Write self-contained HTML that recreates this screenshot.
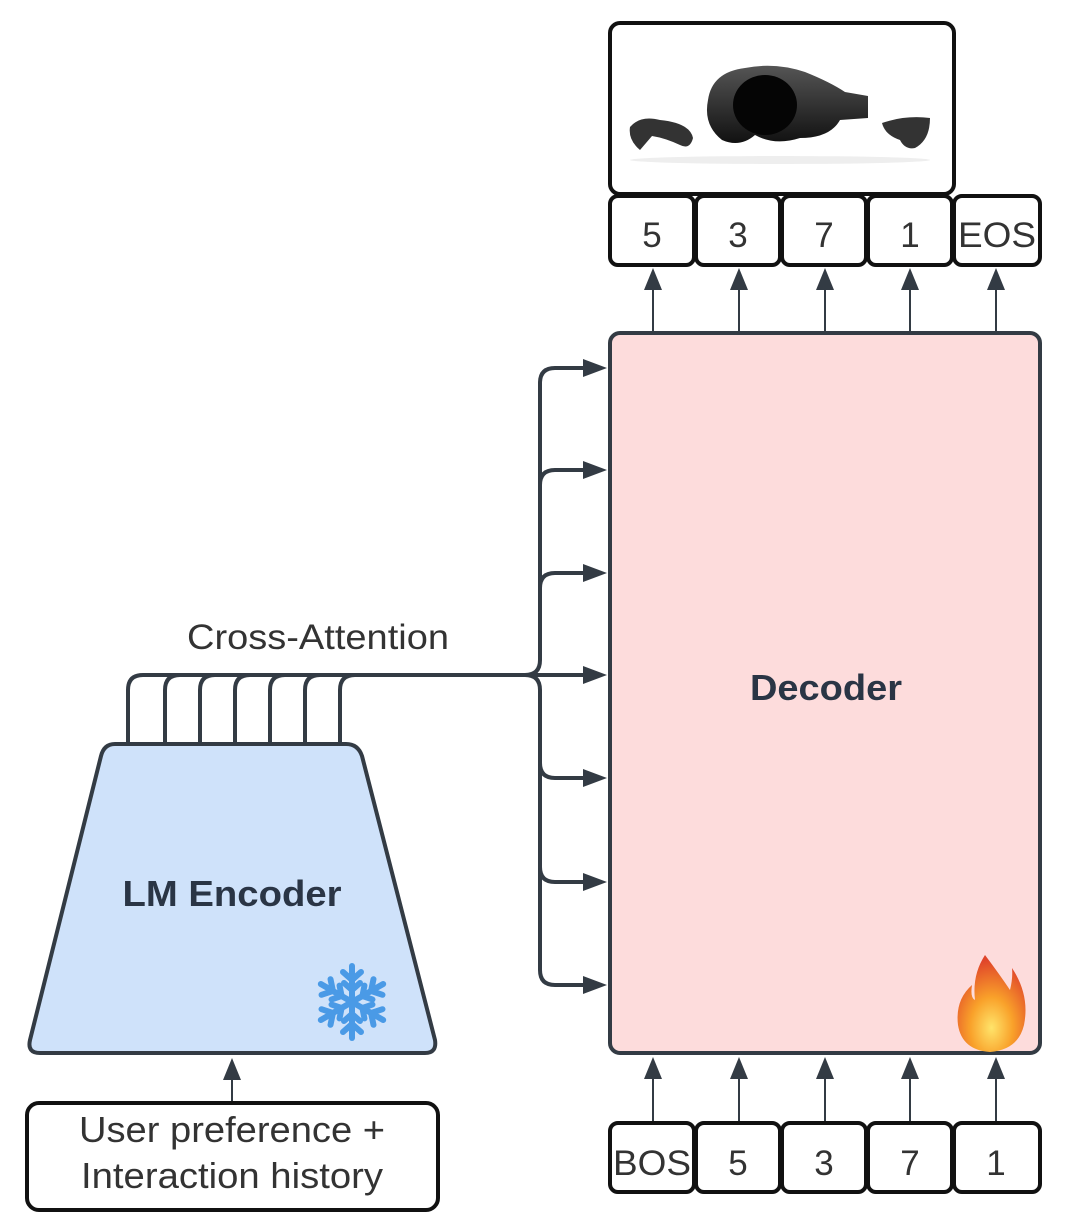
<!DOCTYPE html>
<html><head><meta charset="utf-8"><style>html,body{margin:0;padding:0;background:#fff}svg{display:block}</style></head>
<body>
<svg width="1080" height="1232" viewBox="0 0 1080 1232" xmlns="http://www.w3.org/2000/svg" font-family="Liberation Sans, sans-serif">
<defs>
<radialGradient id="fire" cx="0.5" cy="0.75" r="0.7">
<stop offset="0" stop-color="#ffe46a"/><stop offset="0.45" stop-color="#f9a12a"/><stop offset="1" stop-color="#e0452a"/>
</radialGradient>
<linearGradient id="hs" x1="0" y1="0" x2="0" y2="1"><stop offset="0" stop-color="#555"/><stop offset="1" stop-color="#111"/></linearGradient>
</defs>
<rect width="1080" height="1232" fill="#fff"/>

<!-- image box -->
<rect x="610" y="23" width="344" height="171" rx="10" fill="#fff" stroke="#111" stroke-width="4"/>
<ellipse cx="780" cy="160" rx="150" ry="4" fill="#eee"/>
<path d="M708 100 Q712 72 745 68 Q775 62 805 72 Q830 82 845 92 L868 96 L868 118 L840 120 Q830 138 800 138 Q775 146 755 135 Q740 148 722 140 Q703 125 708 100Z" fill="url(#hs)"/>
<ellipse cx="765" cy="105" rx="32" ry="30" fill="#050505"/>
<path d="M630 127 Q640 115 660 120 Q690 123 693 138 Q690 150 680 145 Q665 138 652 136 L640 150 Q628 140 630 127Z" fill="#333"/>
<path d="M882 123 Q905 115 930 118 Q930 140 915 148 Q905 150 900 140 Q885 135 882 123Z" fill="#333"/>

<!-- top tokens -->
<g fill="#fff" stroke="#111" stroke-width="4">
<rect x="610" y="196" width="84" height="69" rx="8"/>
<rect x="696" y="196" width="84" height="69" rx="8"/>
<rect x="782" y="196" width="84" height="69" rx="8"/>
<rect x="868" y="196" width="84" height="69" rx="8"/>
<rect x="954" y="196" width="86" height="69" rx="8"/>
</g>
<g font-size="35" fill="#333" text-anchor="middle">
<text x="652" y="247">5</text><text x="738" y="247">3</text><text x="824" y="247">7</text><text x="910" y="247">1</text><text x="997" y="247" textLength="78" lengthAdjust="spacingAndGlyphs">EOS</text>
</g>

<!-- decoder -->
<rect x="610" y="333" width="430" height="720" rx="10" fill="#fddcdc" stroke="#333b44" stroke-width="4"/>
<text x="826" y="700" font-size="36" font-weight="bold" fill="#2a3545" text-anchor="middle" textLength="152" lengthAdjust="spacingAndGlyphs">Decoder</text>

<!-- vertical arrows -->
<g stroke="#333b44" stroke-width="2">
<line x1="653" y1="331" x2="653" y2="280"/><line x1="739" y1="331" x2="739" y2="280"/><line x1="825" y1="331" x2="825" y2="280"/><line x1="910" y1="331" x2="910" y2="280"/><line x1="996" y1="331" x2="996" y2="280"/>
<line x1="653" y1="1121" x2="653" y2="1070"/><line x1="739" y1="1121" x2="739" y2="1070"/><line x1="825" y1="1121" x2="825" y2="1070"/><line x1="910" y1="1121" x2="910" y2="1070"/><line x1="996" y1="1121" x2="996" y2="1070"/>
<line x1="232" y1="1101" x2="232" y2="1070"/>
</g>
<g fill="#333b44">
<path d="M653 268 l-9 22 h18z"/><path d="M739 268 l-9 22 h18z"/><path d="M825 268 l-9 22 h18z"/><path d="M910 268 l-9 22 h18z"/><path d="M996 268 l-9 22 h18z"/>
<path d="M653 1057 l-9 22 h18z"/><path d="M739 1057 l-9 22 h18z"/><path d="M825 1057 l-9 22 h18z"/><path d="M910 1057 l-9 22 h18z"/><path d="M996 1057 l-9 22 h18z"/>
<path d="M232 1058 l-9 22 h18z"/>
</g>

<!-- bottom tokens -->
<g fill="#fff" stroke="#111" stroke-width="4">
<rect x="610" y="1123" width="84" height="69" rx="8"/>
<rect x="696" y="1123" width="84" height="69" rx="8"/>
<rect x="782" y="1123" width="84" height="69" rx="8"/>
<rect x="868" y="1123" width="84" height="69" rx="8"/>
<rect x="954" y="1123" width="86" height="69" rx="8"/>
</g>
<g font-size="35" fill="#333" text-anchor="middle">
<text x="652" y="1175" textLength="78" lengthAdjust="spacingAndGlyphs">BOS</text><text x="738" y="1175">5</text><text x="824" y="1175">3</text><text x="910" y="1175">7</text><text x="996" y="1175">1</text>
</g>

<!-- encoder -->
<path d="M115 744 L346 744 Q358 744 362 756 L435 1040 Q437 1053 425 1053 L40 1053 Q27 1053 30 1040 L101 756 Q104 744 115 744Z" fill="#cfe2fa" stroke="#333b44" stroke-width="4"/>
<text x="232" y="906" font-size="36" font-weight="bold" fill="#2a3545" text-anchor="middle" textLength="219" lengthAdjust="spacingAndGlyphs">LM Encoder</text>

<!-- snowflake -->
<g stroke="#4a9ae6" stroke-width="6" stroke-linecap="round" fill="none" transform="translate(352,1002)">
<g id="arm"><line x1="0" y1="0" x2="0" y2="-36"/><polyline points="-9,-30 0,-22 9,-30"/><polyline points="-8,-19 0,-12 8,-19"/></g>
<use href="#arm" transform="rotate(60)"/><use href="#arm" transform="rotate(120)"/><use href="#arm" transform="rotate(180)"/><use href="#arm" transform="rotate(240)"/><use href="#arm" transform="rotate(300)"/>
</g>

<!-- fire -->
<path d="M985 955 Q1000 975 1010 990 Q1013 978 1012 968 Q1030 995 1024 1025 Q1018 1050 990 1052 Q962 1050 958 1025 Q955 1000 972 985 Q970 998 975 1000 Q972 975 985 955Z" fill="url(#fire)"/>

<!-- input box -->
<rect x="27" y="1103" width="411" height="107" rx="12" fill="#fff" stroke="#111" stroke-width="4"/>
<text x="232" y="1142" font-size="36" fill="#333" text-anchor="middle" textLength="306" lengthAdjust="spacingAndGlyphs">User preference +</text>
<text x="232" y="1188" font-size="36" fill="#333" text-anchor="middle" textLength="302" lengthAdjust="spacingAndGlyphs">Interaction history</text>

<!-- cross attention connectors -->
<text x="318" y="649" font-size="35" fill="#333" text-anchor="middle" textLength="262" lengthAdjust="spacingAndGlyphs">Cross-Attention</text>
<g stroke="#333b44" stroke-width="4" fill="none">
<path d="M128 744 V690 Q128 675 143 675 H525"/>
<path d="M165 744 V690 Q165 675 180 675"/>
<path d="M200 744 V690 Q200 675 215 675"/>
<path d="M235 744 V690 Q235 675 250 675"/>
<path d="M270 744 V690 Q270 675 285 675"/>
<path d="M305 744 V690 Q305 675 320 675"/>
<path d="M340 744 V690 Q340 675 355 675"/>
<path d="M525 675 H585"/>
<path d="M525 675 Q540 675 540 660 V383 Q540 368 555 368 H585"/>
<path d="M525 675 Q540 675 540 690 V970 Q540 985 555 985 H585"/>
<path d="M540 485 Q540 470 555 470 H585"/>
<path d="M540 588 Q540 573 555 573 H585"/>
<path d="M540 763 Q540 778 555 778 H585"/>
<path d="M540 867 Q540 882 555 882 H585"/>
</g>
<g fill="#333b44">
<path d="M607 368 l-24 -9 v18z"/><path d="M607 470 l-24 -9 v18z"/><path d="M607 573 l-24 -9 v18z"/><path d="M607 675 l-24 -9 v18z"/><path d="M607 778 l-24 -9 v18z"/><path d="M607 882 l-24 -9 v18z"/><path d="M607 985 l-24 -9 v18z"/>
</g>
</svg>
</body></html>
